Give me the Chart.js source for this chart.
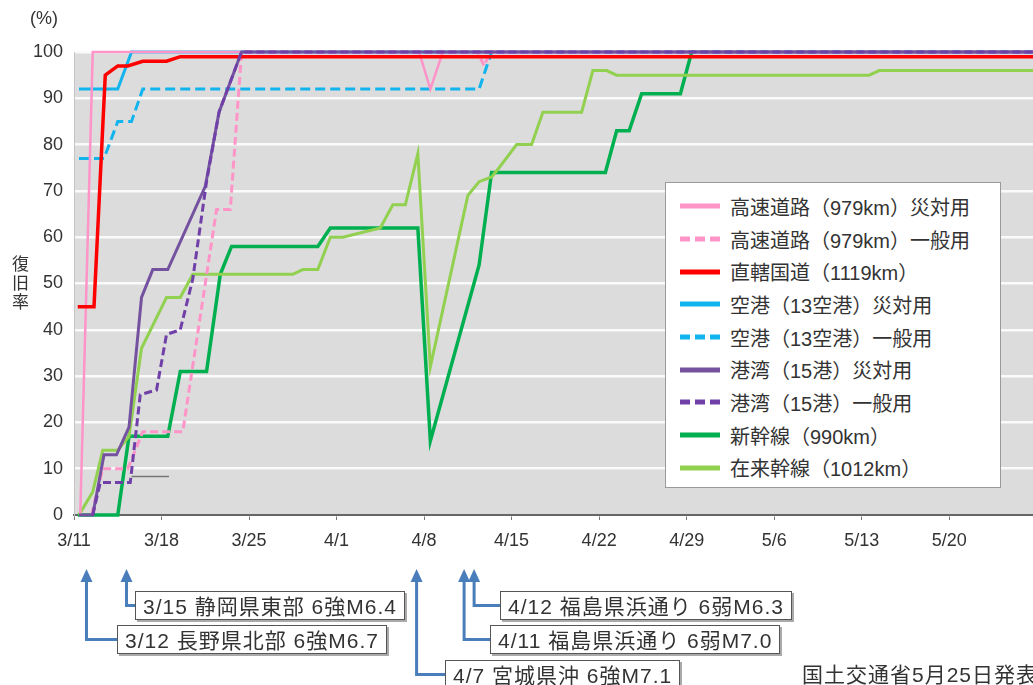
<!DOCTYPE html>
<html lang="ja">
<head>
<meta charset="utf-8">
<script src="https://cdn.jsdelivr.net/npm/chart.js@4.4.1/dist/chart.umd.min.js"></script>
<style>
  html, body { margin: 0; padding: 0; background: #fff; }
  body {
    width: 1033px; height: 685px; position: relative; overflow: hidden;
    font-family: "Liberation Sans", "Noto Sans CJK JP", sans-serif; color: #333;
  }
  #chart { position: absolute; left: 0; top: 0; }
  .unit { position: absolute; left: 30px; top: 8px; font-size: 18px; }
  .ylabel {
    position: absolute; left: 9px; top: 255px; font-size: 17px; line-height: 22px;
    writing-mode: vertical-rl; text-orientation: upright; letter-spacing: 2px;
    font-family: "Noto Sans CJK JP", sans-serif;
  }
  #legend {
    position: absolute; left: 665px; top: 182px; width: 336px; height: 306px;
    background: #fff; border: 1px solid #9a9a9a; box-sizing: border-box; padding-top: 7px;
  }
  #legend .row { height: 32.7px; display: flex; align-items: center; }
  #legend svg { margin-left: 14px; margin-right: 10px; flex: none; }
  #legend span { font-size: 20px; white-space: nowrap; }
  .quake {
    position: absolute; height: 29px; line-height: 29px; padding: 0 7px;
    border: 1px solid #555; background: #fff; box-shadow: 2px 2px 0 #aaa;
    font-size: 21px; letter-spacing: 1px; white-space: nowrap; box-sizing: border-box;
  }
  .source { position: absolute; left: 802px; top: 658px; font-size: 21px; letter-spacing: 1px; white-space: nowrap; }
</style>
</head>
<body>
<canvas id="chart" width="1033" height="685"></canvas>
<div class="unit">(%)</div>
<div class="ylabel">復旧率</div>
<div id="legend"></div>
<div id="quakes"></div>
<div class="source">国土交通省5月25日発表</div>
<script>
// 横軸は 3/11 からの経過日数
const tickDays = [0, 7, 14, 21, 28, 35, 42, 49, 56, 63, 70];
const tickLabels = ['3/11', '3/18', '3/25', '4/1', '4/8', '4/15', '4/22', '4/29', '5/6', '5/13', '5/20'];
const xMax = 76.7;

// [経過日数, 復旧率%]
const kosokuSaitai = [[0.5, 0], [1.5, 100], [27.6, 100], [28.5, 92], [29.5, 100], [76.7, 100]];
const kosokuIppan = [[1.4, 0], [2.3, 10], [4.3, 10], [5.5, 18], [8.7, 18], [11.4, 66], [12.5, 66], [13.4, 100],
  [32.3, 100], [32.8, 97], [33.3, 100], [76.7, 100]];
const chokkatsu = [[0.3, 45], [1.6, 45], [2.5, 95], [3.5, 97], [4.3, 97], [5.5, 98], [7.4, 98], [8.5, 99], [76.7, 99]];
const kukoSaitai = [[0.4, 92], [3.5, 92], [4.6, 100], [76.7, 100]];
const kukoIppan = [[0.4, 77], [2.4, 77], [3.5, 85], [4.6, 85], [5.5, 92], [32.4, 92], [33.4, 100], [76.7, 100]];
const kowanSaitai = [[0.4, 0], [1.5, 0], [2.4, 13], [3.4, 13], [4.4, 19], [5.4, 47], [6.3, 53], [7.5, 53],
  [10.5, 71], [11.6, 87], [13.4, 100], [76.7, 100]];
const kowanIppan = [[1.5, 0], [2.1, 7], [4.5, 7], [5.3, 26], [6.6, 27], [7.4, 39], [8.5, 40], [9.5, 51],
  [10.6, 72], [11.6, 87], [13.4, 100], [76.7, 100]];
const shinkansen = [[0.3, 0], [3.5, 0], [4.4, 17], [7.5, 17], [8.5, 31], [10.6, 31], [11.7, 52], [12.6, 58],
  [19.5, 58], [20.5, 62], [27.5, 62], [28.5, 16], [32.4, 54], [33.4, 74], [42.5, 74], [43.4, 83], [44.4, 83],
  [45.4, 91], [48.5, 91], [49.4, 100], [76.7, 100]];
const zairai = [[0.4, 0], [1.5, 5], [2.3, 14], [3.5, 14], [4.4, 17], [5.4, 36], [7.4, 47], [8.5, 47], [9.5, 52],
  [17.5, 52], [18.3, 53], [19.5, 53], [20.5, 60], [21.5, 60], [24.5, 62], [25.5, 67], [26.5, 67], [27.5, 78],
  [28.5, 32], [31.5, 69], [32.4, 72], [33.4, 73], [34.0, 75], [35.4, 80], [36.6, 80], [37.5, 87], [40.6, 87],
  [41.5, 96], [42.6, 96], [43.4, 95], [63.6, 95], [64.4, 96], [76.7, 96]];
const leaderLine = [[4.6, 8.3], [7.6, 8.3]];

// 凡例順
const series = [
  { label: '高速道路（979km）災対用', data: kosokuSaitai, color: '#ff94c8', width: 2.5, dash: [], order: 3 },
  { label: '高速道路（979km）一般用', data: kosokuIppan, color: '#ff94c8', width: 3, dash: [8, 4], order: 4 },
  { label: '直轄国道（1119km）', data: chokkatsu, color: '#ff0000', width: 3.5, dash: [], order: 2 },
  { label: '空港（13空港）災対用', data: kukoSaitai, color: '#12b4ee', width: 3, dash: [], order: 6 },
  { label: '空港（13空港）一般用', data: kukoIppan, color: '#12b4ee', width: 3, dash: [10, 5], order: 5 },
  { label: '港湾（15港）災対用', data: kowanSaitai, color: '#7452a0', width: 3, dash: [], order: 1 },
  { label: '港湾（15港）一般用', data: kowanIppan, color: '#7040a8', width: 3, dash: [8, 4], order: 0 },
  { label: '新幹線（990km）', data: shinkansen, color: '#00b050', width: 3.5, dash: [], order: 8 },
  { label: '在来幹線（1012km）', data: zairai, color: '#92d050', width: 3, dash: [], order: 7 }
];

// 地震
const quakeDays = [1, 4.2, 27.4, 31.2, 32];
const quakeLabels = ['3/12 長野県北部 6強M6.7', '3/15 静岡県東部 6強M6.4', '4/7 宮城県沖 6強M7.1',
  '4/11 福島県浜通り 6弱M7.0', '4/12 福島県浜通り 6弱M6.3'];
const quakeBoxLeft = [117, 135, 445, 490, 500];
const quakeBoxTop = [625, 591, 660, 625, 591];

const FONT = '"Liberation Sans", "Noto Sans CJK JP", sans-serif';

const datasets = series.map(s => ({
  label: s.label,
  data: s.data.map(p => ({ x: p[0], y: p[1] })),
  borderColor: s.color,
  borderWidth: s.width,
  borderDash: s.dash,
  order: s.order,
  pointRadius: 0,
  tension: 0,
  clip: false
}));
datasets.push({
  label: 'leader',
  data: leaderLine.map(p => ({ x: p[0], y: p[1] })),
  borderColor: '#777',
  borderWidth: 1.5,
  order: 9,
  pointRadius: 0,
  clip: false
});

const bgPlugin = {
  id: 'bg',
  beforeDraw(chart) {
    const { ctx, chartArea: a } = chart;
    ctx.save();
    ctx.fillStyle = '#dcdcdc';
    ctx.fillRect(a.left, a.top, a.right - a.left, a.bottom - a.top);
    ctx.restore();
  }
};

const arrowPlugin = {
  id: 'arrows',
  afterDraw(chart) {
    const ctx = chart.ctx;
    const xs = chart.scales.x;
    ctx.save();
    ctx.strokeStyle = '#4a7ebb';
    ctx.fillStyle = '#4a7ebb';
    ctx.lineWidth = 3;
    quakeDays.forEach((d, i) => {
      const x = xs.getPixelForValue(d);
      const y = quakeBoxTop[i] + 14.5;
      ctx.beginPath();
      ctx.moveTo(x, 578);
      ctx.lineTo(x, y);
      ctx.lineTo(quakeBoxLeft[i], y);
      ctx.stroke();
      ctx.beginPath();
      ctx.moveTo(x, 569);
      ctx.lineTo(x - 6, 582);
      ctx.lineTo(x + 6, 582);
      ctx.closePath();
      ctx.fill();
    });
    ctx.restore();
  }
};

new Chart(document.getElementById('chart'), {
  type: 'line',
  data: { datasets },
  options: {
    responsive: false,
    animation: false,
    events: [],
    layout: { padding: { top: 52, right: 0, left: 0, bottom: 0 } },
    plugins: { legend: { display: false }, tooltip: { enabled: false } },
    scales: {
      x: {
        type: 'linear', min: 0, max: xMax,
        afterFit: s => { s.height = 170; },
        afterBuildTicks: s => { s.ticks = tickDays.map(v => ({ value: v })); },
        ticks: {
          callback: v => tickLabels[tickDays.indexOf(v)] || '',
          color: '#333', font: { size: 18, family: FONT }, padding: 10,
          maxRotation: 0, autoSkip: false
        },
        grid: { drawOnChartArea: false, tickLength: 5, color: '#777' },
        border: { color: '#666', width: 2 }
      },
      y: {
        min: 0, max: 100,
        afterFit: s => { s.width = 74; },
        ticks: { stepSize: 10, color: '#333', font: { size: 18, family: FONT }, padding: 11 },
        grid: { color: '#fafafa', lineWidth: 2.5, drawTicks: false },
        border: { color: '#c4c4c4', width: 1 }
      }
    }
  },
  plugins: [bgPlugin, arrowPlugin]
});

// 凡例
const legend = document.getElementById('legend');
series.forEach(s => {
  const row = document.createElement('div');
  row.className = 'row';
  const dash = s.dash.length ? ' stroke-dasharray="10 5"' : '';
  row.innerHTML = '<svg width="40" height="8"><line x1="0" y1="4" x2="40" y2="4" stroke="' + s.color +
    '" stroke-width="5"' + dash + '/></svg><span>' + s.label + '</span>';
  legend.appendChild(row);
});

// 地震ラベル
const quakes = document.getElementById('quakes');
quakeLabels.forEach((t, i) => {
  const box = document.createElement('div');
  box.className = 'quake';
  box.style.left = quakeBoxLeft[i] + 'px';
  box.style.top = quakeBoxTop[i] + 'px';
  box.textContent = t;
  quakes.appendChild(box);
});
</script>
</body>
</html>
